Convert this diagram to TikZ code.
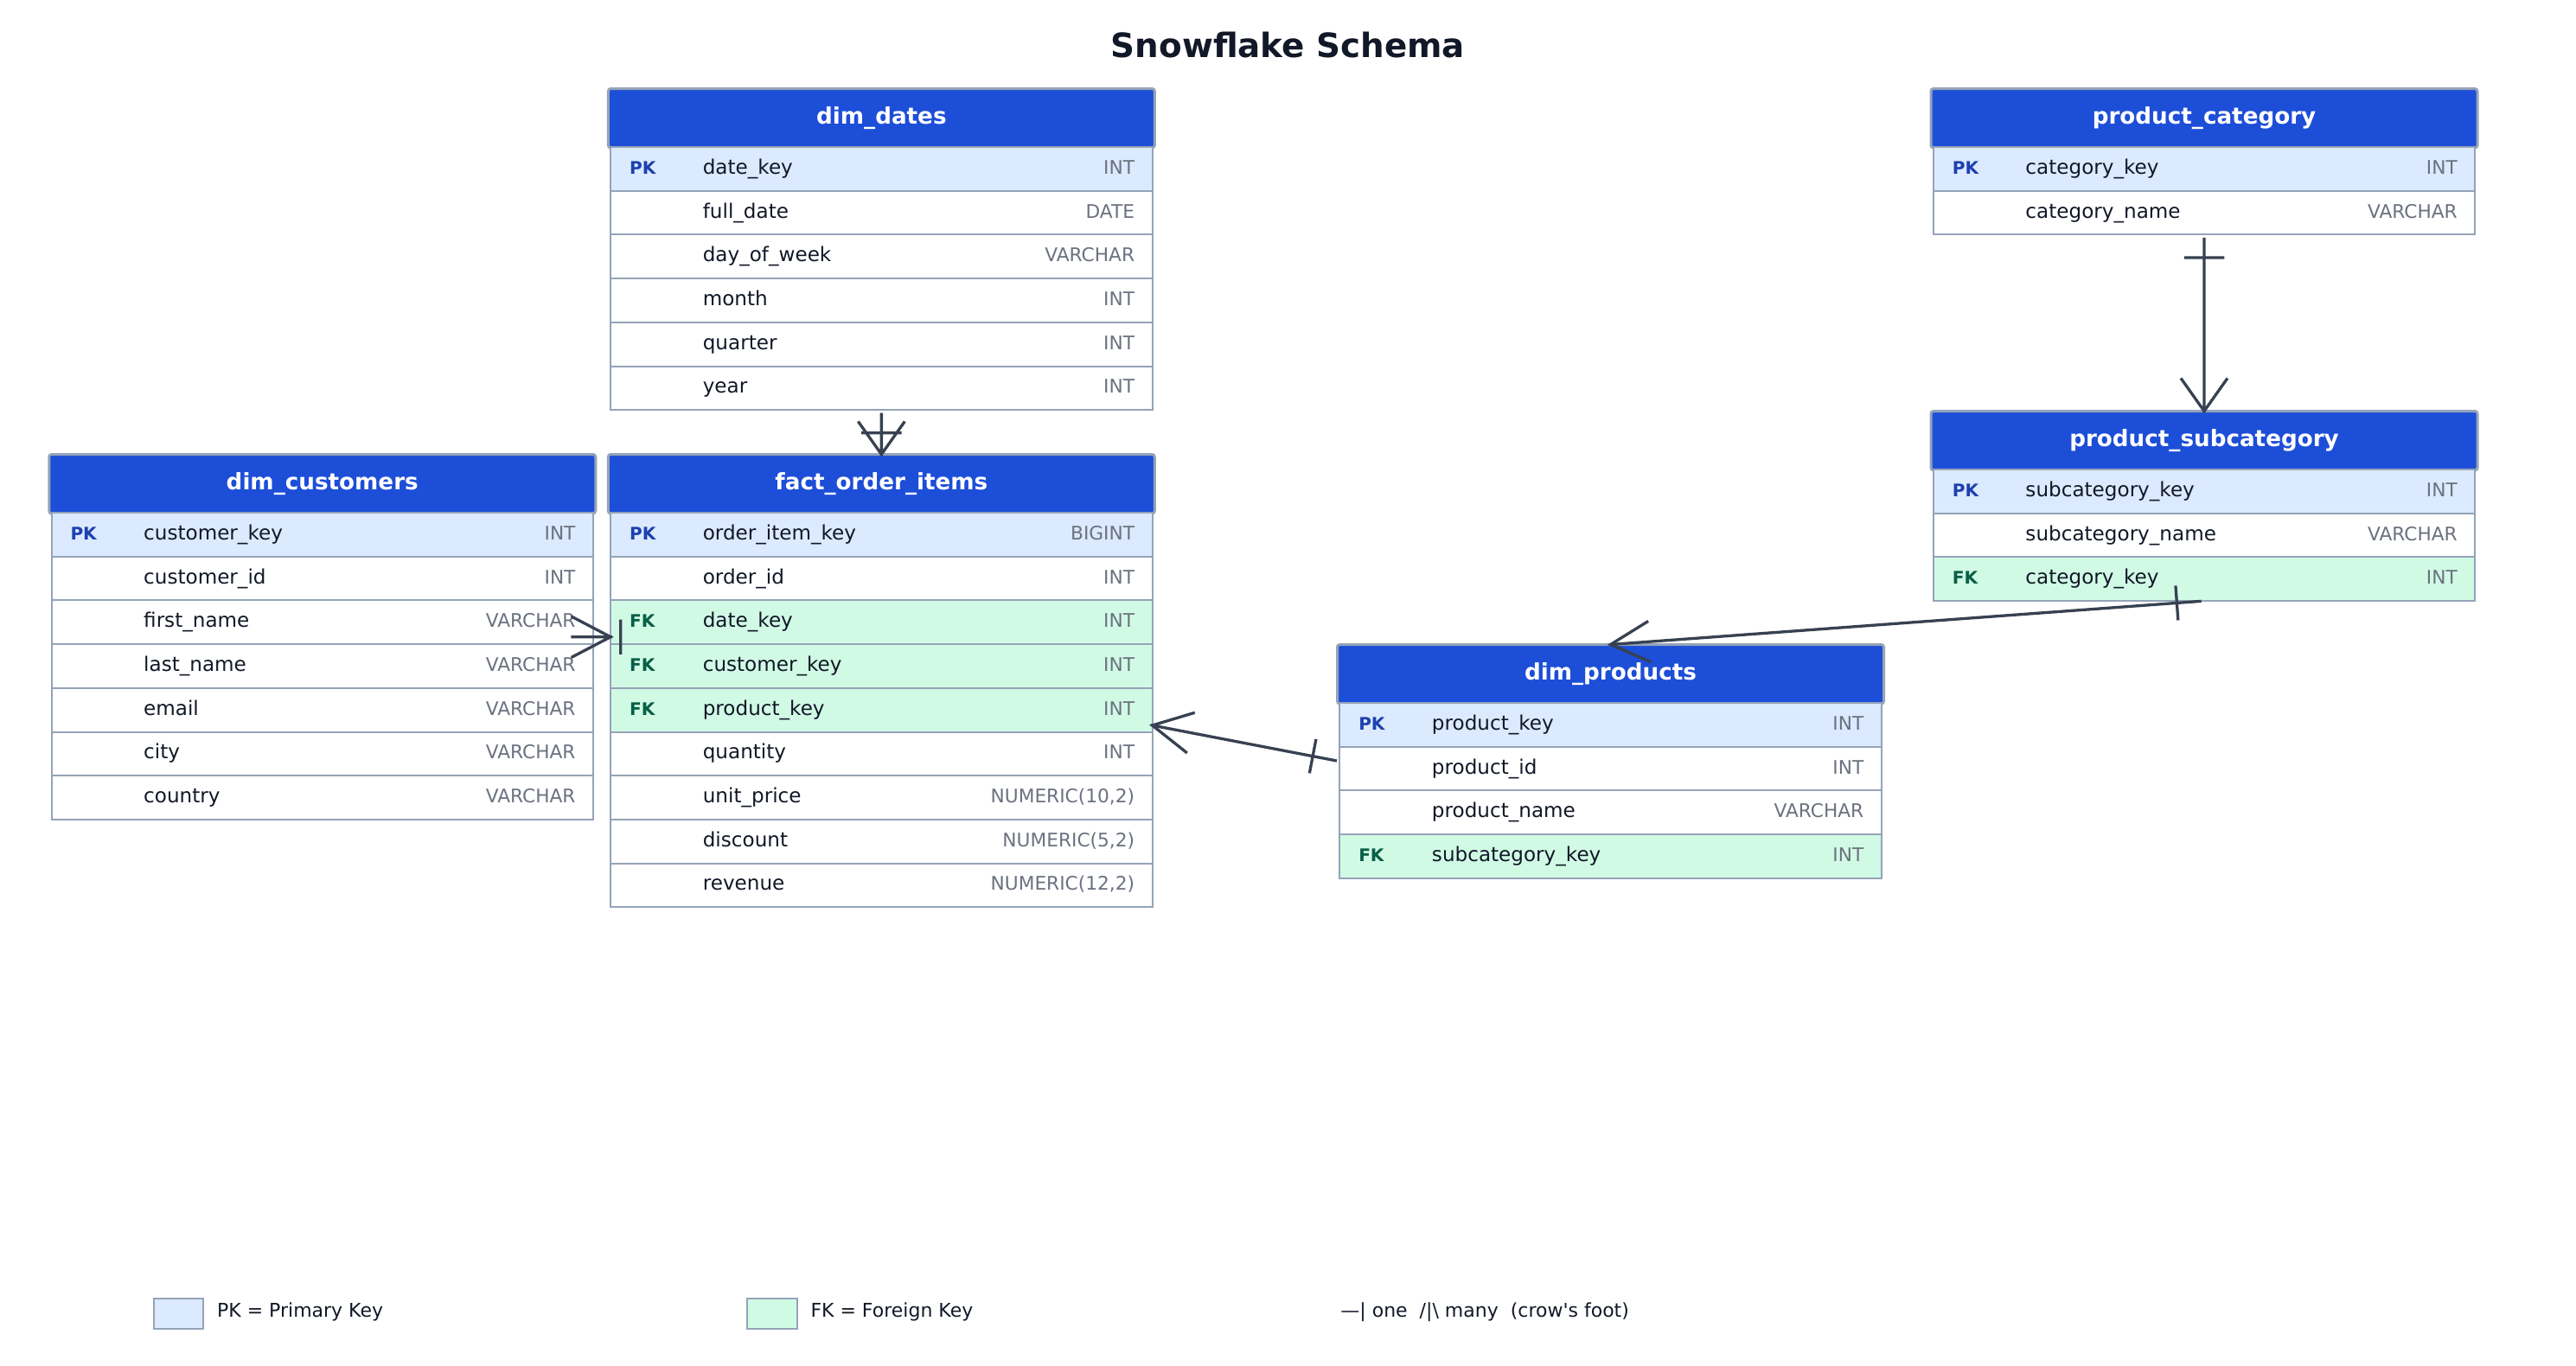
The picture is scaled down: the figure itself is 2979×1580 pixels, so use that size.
\documentclass[tikz,border=0pt]{standalone}
\usepackage{fontspec}
\setmainfont{DejaVu Sans}
\usetikzlibrary{calc,positioning}

\definecolor{hdrblue}{HTML}{1D4ED8}
\definecolor{edgegray}{HTML}{94A3B8}
\definecolor{pkfill}{HTML}{DBEAFE}
\definecolor{fkfill}{HTML}{D1FAE5}
\definecolor{pkblue}{HTML}{1E40AF}
\definecolor{fkgreen}{HTML}{065F46}
\definecolor{ink}{HTML}{111827}
\definecolor{typegray}{HTML}{6B7280}
\definecolor{linkgray}{HTML}{374151}

\newcommand{\tagpk}{{\fontsize{10.05}{12}\selectfont\bfseries\color{pkblue}PK}}
\newcommand{\tagfk}{{\fontsize{10.05}{12}\selectfont\bfseries\color{fkgreen}FK}}
\newcommand{\tagnokey}{}
\newcommand{\rowtext}[3]{\hbox to 313.25pt{\hspace{11pt}\hbox to 42.35pt{\csname tag#1\endcsname\hss}#2\hfill{\fontsize{10.85}{12}\selectfont\color{typegray}#3}\hspace{10.25pt}}}

\tikzstyle{titletxt} = [font=\fontsize{19.4}{23}\selectfont\bfseries, text=ink, inner sep=0pt]
\tikzstyle{header} = [draw=edgegray, fill=hdrblue, line width=1.5pt, rounded corners=1.5pt, text=white, font=\fontsize{13.1}{15}\selectfont\bfseries, minimum width=316pt, minimum height=34.25pt, inner sep=0pt, outer sep=0pt, text height=9.4pt, text depth=2.6pt]
\tikzstyle{field} = [draw=edgegray, line width=1pt, minimum width=313.25pt, minimum height=25.35pt, inner sep=0pt, outer sep=0pt, text=ink, font=\fontsize{11.55}{13}\selectfont, text height=9pt, text depth=3pt]
\tikzstyle{pk} = [fill=pkfill]
\tikzstyle{fk} = [fill=fkfill]
\tikzstyle{nokey} = [fill=white]
\tikzstyle{legbox} = [draw=edgegray, line width=1pt, minimum width=28.8pt, minimum height=17.65pt, inner sep=0pt, outer sep=0pt]
\tikzstyle{legtext} = [font=\fontsize{11}{13}\selectfont, text=ink, inner sep=0pt, text height=7.6pt, text depth=3pt]
\tikzstyle{linkline} = [draw=linkgray, line width=1.65pt, line cap=rect]
\tikzset{
  crow/.style n args={4}{linkline, to path={
      ($(\tikztostart)!2.5pt!(\tikztotarget)$) -- (\tikztotarget)
      ($(\tikztostart)!#1!(\tikztotarget)!#2!90:(\tikztostart)$) -- ($(\tikztostart)!#1!(\tikztotarget)!#2!-90:(\tikztostart)$)
      ($(\tikztotarget)!#3!(\tikztostart)!#4!90:(\tikztotarget)$) -- (\tikztotarget)
        -- ($(\tikztotarget)!#3!(\tikztostart)!#4!-90:(\tikztotarget)$)
      (\tikztotarget) -- ($(\tikztotarget)!#3!(\tikztostart)$)}},
  hrel/.style={crow={15.85pt}{9.2pt}{22pt}{11.5pt}},
  vrel/.style={crow={13.25pt}{10.8pt}{18.35pt}{13pt}}
}

\begin{document}
\begin{tikzpicture}[x=0.5pt,y=-0.5pt]
    \useasboundingbox (0,0) rectangle (2979,1580);
    \node [titletxt, anchor=base] (title) at (1489.5,66) {Snowflake Schema};

    \node [header] (dates) at (1019.35,136.75) {dim\_dates};
    \foreach [count=\i] \kk/\nm/\ty in {pk/date\_key/INT, nokey/full\_date/DATE, nokey/day\_of\_week/VARCHAR, nokey/month/INT, nokey/quarter/INT, nokey/year/INT} {
        \pgfmathsetmacro\rowoff{(\i-1)*25.35-0.5}
        \node [field, \kk, below=\rowoff pt of dates] (dates-\i) {\rowtext{\kk}{\nm}{\ty}};
    }

    \node [header, below=25.65pt of dates-6] (fact) {fact\_order\_items};
    \foreach [count=\i] \kk/\nm/\ty in {pk/order\_item\_key/BIGINT, nokey/order\_id/INT, fk/date\_key/INT, fk/customer\_key/INT, fk/product\_key/INT, nokey/quantity/INT, nokey/unit\_price/{NUMERIC(10,2)}, nokey/discount/{NUMERIC(5,2)}, nokey/revenue/{NUMERIC(12,2)}} {
        \pgfmathsetmacro\rowoff{(\i-1)*25.35-0.5}
        \node [field, \kk, below=\rowoff pt of fact] (fact-\i) {\rowtext{\kk}{\nm}{\ty}};
    }

    \node [header, left=7.3pt of fact] (customers) {dim\_customers};
    \foreach [count=\i] \kk/\nm/\ty in {pk/customer\_key/INT, nokey/customer\_id/INT, nokey/first\_name/VARCHAR, nokey/last\_name/VARCHAR, nokey/email/VARCHAR, nokey/city/VARCHAR, nokey/country/VARCHAR} {
        \pgfmathsetmacro\rowoff{(\i-1)*25.35-0.5}
        \node [field, \kk, below=\rowoff pt of customers] (customers-\i) {\rowtext{\kk}{\nm}{\ty}};
    }

    \node [header] (products) at (1862.5,779.75) {dim\_products};
    \foreach [count=\i] \kk/\nm/\ty in {pk/product\_key/INT, nokey/product\_id/INT, nokey/product\_name/VARCHAR, fk/subcategory\_key/INT} {
        \pgfmathsetmacro\rowoff{(\i-1)*25.35-0.5}
        \node [field, \kk, below=\rowoff pt of products] (products-\i) {\rowtext{\kk}{\nm}{\ty}};
    }

    \node [header] (category) at (2549,136.75) {product\_category};
    \foreach [count=\i] \kk/\nm/\ty in {pk/category\_key/INT, nokey/category\_name/VARCHAR} {
        \pgfmathsetmacro\rowoff{(\i-1)*25.35-0.5}
        \node [field, \kk, below=\rowoff pt of category] (category-\i) {\rowtext{\kk}{\nm}{\ty}};
    }

    \node [header, below=102.05pt of category-2] (subcat) {product\_subcategory};
    \foreach [count=\i] \kk/\nm/\ty in {pk/subcategory\_key/INT, nokey/subcategory\_name/VARCHAR, fk/category\_key/INT} {
        \pgfmathsetmacro\rowoff{(\i-1)*25.35-0.5}
        \node [field, \kk, below=\rowoff pt of subcat] (subcat-\i) {\rowtext{\kk}{\nm}{\ty}};
    }

    % relationship end points
    \coordinate (cmid) at ($(customers.north)!.5!(customers-7.south)$);
    \coordinate (cust-r) at (cmid -| customers-7.east);
    \coordinate (fact-l) at (cmid -| fact-1.west);
    \coordinate (pmid) at ($(products.north)!.5!(products-4.south)$);
    \coordinate (prod-l) at (pmid -| products-4.west);
    \coordinate (fact-r) at ([yshift=3.75pt]fact-5.south east);

    \draw [vrel] (dates-6.south) to (fact.north);
    \draw [hrel] (cust-r) to (fact-l);
    \draw [hrel] (prod-l) to (fact-r);
    \draw [hrel] (subcat-3.south) to (products.north);
    \draw [vrel] (category-2.south) to (subcat.north);

    % legend
    \node [legbox, fill=pkfill] (legpk) at (206.5,1519.35) {};
    \node [legtext, right=7.7pt of legpk] (legpk-txt) {PK = Primary Key};
    \node [legbox, fill=fkfill] (legfk) at (892.9,1519.35) {};
    \node [legtext, right=7.7pt of legfk] (legfk-txt) {FK = Foreign Key};
    \node [legtext, anchor=base west] (legnote) at (1550,1523.5) {—| one\ \ /|\textbackslash\ many\ \ (crow\textquotesingle s foot)};
\end{tikzpicture}
\end{document}
